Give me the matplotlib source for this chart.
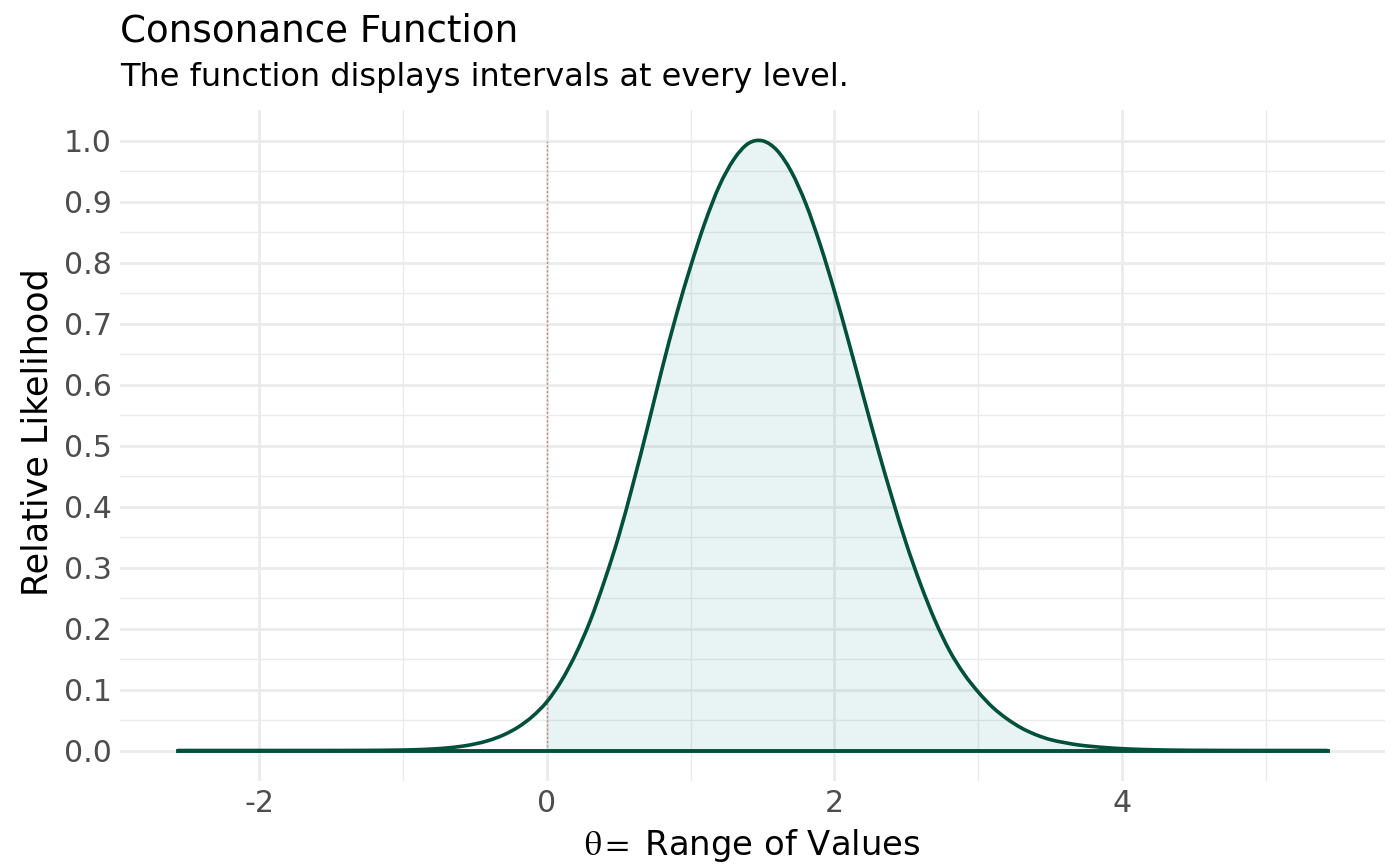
import matplotlib
matplotlib.use("Agg")
import matplotlib.pyplot as plt
from matplotlib.ticker import FixedLocator
from matplotlib.path import Path
from matplotlib.patches import PathPatch

plt.rcParams['font.family'] = ['DejaVu Sans']
plt.rcParams['mathtext.fontset'] = 'stix'

# Data
theta = [-2.57, -2.0, -1.6, -1.5, -1.4, -1.3, -1.2, -1.1, -1.0, -0.9, -0.8, -0.7,
         -0.6, -0.5, -0.4, -0.3, -0.2, -0.1, 0.0, 0.1, 0.2, 0.3, 0.4, 0.5, 0.6,
         0.7, 0.8, 0.9, 1.0, 1.1, 1.2, 1.3, 1.4, 1.5, 1.6, 1.7, 1.8, 1.9,
         2.0, 2.1, 2.2, 2.3, 2.4, 2.5, 2.6, 2.7, 2.8, 2.9, 3.0, 3.1, 3.2, 3.3,
         3.4, 3.5, 3.6, 3.7, 3.8, 3.9, 4.0, 4.1, 4.2, 4.3, 4.4, 4.5, 4.6, 4.7,
         5.0, 5.43]
likelihood = [0.0, 0.0, 0.00001, 0.00003, 0.00006, 0.00012, 0.00024, 0.00045,
              0.0008, 0.0014, 0.0024, 0.0041, 0.0067, 0.0108, 0.0168, 0.0257,
              0.0384, 0.056, 0.080, 0.114, 0.158, 0.212, 0.278, 0.352, 0.438,
              0.530, 0.625, 0.714, 0.794, 0.866, 0.926, 0.969, 0.995,
              0.9995, 0.984, 0.949, 0.897, 0.830, 0.753, 0.669, 0.582, 0.496,
              0.415, 0.339, 0.272, 0.213, 0.164, 0.126, 0.096, 0.071, 0.052,
              0.037, 0.026, 0.018, 0.013, 0.009, 0.0065, 0.0045, 0.003, 0.002,
              0.0013, 0.0008, 0.0005, 0.0003, 0.0002, 0.0001, 0.0, 0.0]
x_ticks = [-2, 0, 2, 4]
y_ticks = [0.0, 0.1, 0.2, 0.3, 0.4, 0.5, 0.6, 0.7, 0.8, 0.9, 1.0]
null_value = 0.0

LINE = '#00503a'
FILL = '#008080'
GRID = '#ebebeb'


def smooth_path(xs, ys, close_to_zero=False):
    """Cubic Bezier path through the given points (drawing only)."""
    n = len(xs)
    verts = [(xs[0], ys[0])]
    codes = [Path.MOVETO]
    for i in range(n - 1):
        x0, y0 = (xs[i - 1], ys[i - 1]) if i > 0 else (xs[i], ys[i])
        x1, y1 = xs[i], ys[i]
        x2, y2 = xs[i + 1], ys[i + 1]
        x3, y3 = (xs[i + 2], ys[i + 2]) if i + 2 < n else (x2, y2)
        h = x2 - x1
        m1 = (y2 - y0) / (x2 - x0) if x2 != x0 else 0.0
        m2 = (y3 - y1) / (x3 - x1) if x3 != x1 else 0.0
        c1 = (x1 + h / 3, y1 + m1 * h / 3)
        c2 = (x2 - h / 3, y2 - m2 * h / 3)
        verts += [c1, c2, (x2, y2)]
        codes += [Path.CURVE4] * 3
    if close_to_zero:
        verts += [(xs[-1], 0), (xs[0], 0), (xs[0], ys[0])]
        codes += [Path.LINETO, Path.LINETO, Path.CLOSEPOLY]
    return Path(verts, codes)


fig = plt.figure(figsize=(7.0, 4.33), dpi=200)
ax = fig.add_axes([120/1400, 1 - 781/866, (1385-120)/1400, (781-110)/866])

ax.set_xlim(-2.97, 5.83)
ax.set_ylim(-0.05, 1.05)

# grid
ax.xaxis.set_major_locator(FixedLocator(x_ticks))
ax.xaxis.set_minor_locator(FixedLocator([-1, 1, 3, 5]))
ax.yaxis.set_major_locator(FixedLocator(y_ticks))
ax.yaxis.set_minor_locator(FixedLocator([0.05 + 0.1*i for i in range(10)]))
ax.grid(which='major', color=GRID, linewidth=1.0, zorder=0)
ax.grid(which='minor', color=GRID, linewidth=0.5, zorder=0)
ax.set_axisbelow(True)

# filled area from the null value onward
xs = [x for x in theta if x >= null_value]
ys = [y for x, y in zip(theta, likelihood) if x >= null_value]
ax.add_patch(PathPatch(smooth_path(xs, ys, close_to_zero=True), facecolor=FILL,
                       alpha=0.09, linewidth=0, zorder=1))

ax.plot([theta[0], theta[-1]], [0, 0], color=LINE, linewidth=1.4, zorder=3)
ax.add_patch(PathPatch(smooth_path(theta, likelihood), facecolor='none',
                       edgecolor=LINE, linewidth=1.3, zorder=4, capstyle='butt'))
ax.plot([null_value, null_value], [0, 1.0], color='#c08080', linewidth=0.5,
        linestyle=(0, (1.5, 1.5)), alpha=0.9, zorder=2)

for s in ax.spines.values():
    s.set_visible(False)
ax.tick_params(which='both', length=0)
ax.tick_params(axis='both', labelsize=10.8, labelcolor='#4d4d4d', pad=3)
ax.set_xticklabels(['-2', '0', '2', '4'])
ax.set_yticklabels([f'{v:.1f}' for v in y_ticks])

ax.set_xlabel(r'$\mathrm{\theta} = $ Range of Values', fontsize=12.2, color='black', labelpad=3)
ax.set_ylabel('Relative Likelihood', fontsize=12.6, color='black')
ax.yaxis.set_label_coords(-0.052, 0.52)

fig.text(120/1400, 1 - 42/866, 'Consonance Function', fontsize=13.4,
         ha='left', va='baseline', color='black')
fig.text(120/1400, 1 - 86/866, 'The function displays intervals at every level.',
         fontsize=11.5, ha='left', va='baseline', color='black')

fig.savefig('out.png', dpi=200, facecolor='white')
